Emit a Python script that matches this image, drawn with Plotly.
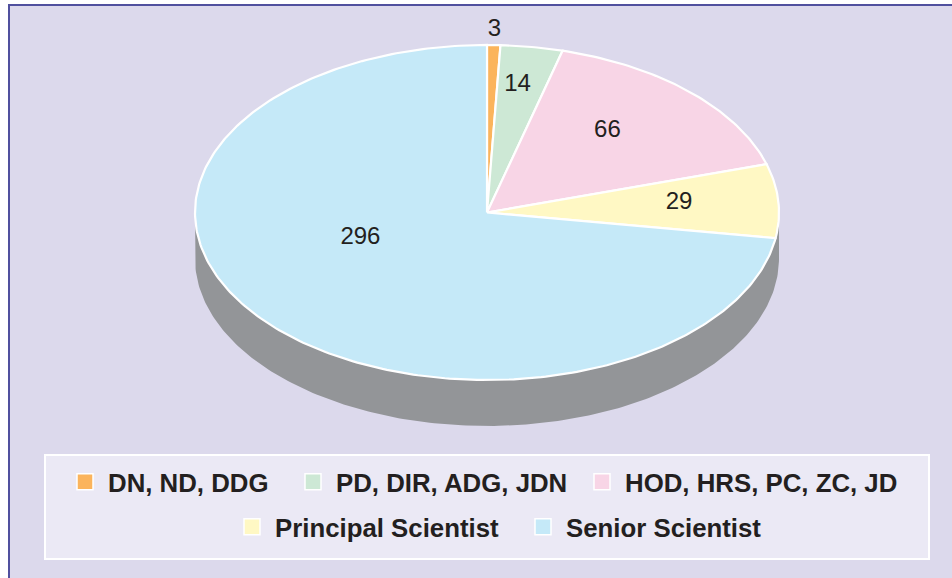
import numpy as np
import plotly.graph_objects as go

# ---------------- data ----------------
categories = ["DN, ND, DDG", "PD, DIR, ADG, JDN", "HOD, HRS, PC, ZC, JD",
              "Principal Scientist", "Senior Scientist"]
values = [3, 14, 66, 29, 296]

# ---------------- style ----------------
colors = ["#fbb45c", "#cde8d5", "#f8d5e6", "#fff8c4", "#c5e9f8"]
label_r = [1.09, 0.77, 0.64, 0.66, 0.46]          # radial fraction of label
label_shift = [0, -1, -4, -1, 21]                 # degrees shift from mid angle
# legend swatch placement (pixels): left edge of swatch, vertical centre of row
legend_left = [74, 302, 591, 241, 532]
legend_row = [482, 482, 482, 527, 527]
W, H = 952, 578
CX, CY, RX, RY, DEPTH = 487, 212.5, 292, 167.5, 46
TXT = "#231f20"
SWATCH_OFFSET = 12


def ell(t, r=1.0, dy=0.0):
    return CX + RX * r * np.sin(t), CY - RY * r * np.cos(t) + dy


total = float(sum(values))
bounds = np.concatenate([[0], np.cumsum(values)]) / total * 2 * np.pi

fig = go.Figure()

# side (depth) of the 3-D pie
t_side = np.linspace(np.pi / 2, 3 * np.pi / 2, 200)
xs_t, ys_t = ell(t_side)
xs_b, ys_b = ell(t_side[::-1], dy=DEPTH)
fig.add_trace(go.Scatter(x=np.concatenate([xs_t, xs_b]), y=np.concatenate([ys_t, ys_b]),
                         fill="toself", fillcolor="#939598", mode="lines",
                         line=dict(color="#939598", width=0), showlegend=False,
                         hoverinfo="skip"))

# top slices
for i, (cat, v) in enumerate(zip(categories, values)):
    t = np.linspace(bounds[i], bounds[i + 1], max(3, int(v / total * 400)))
    ax, ay = ell(t)
    xs = np.concatenate([[CX], ax, [CX]])
    ys = np.concatenate([[CY], ay, [CY]])
    fig.add_trace(go.Scatter(x=xs, y=ys, fill="toself", fillcolor=colors[i],
                             mode="lines", line=dict(color="white", width=2.2),
                             showlegend=False, name=cat, hoverinfo="skip"))

# value labels
lx, ly, lt = [], [], []
for i, v in enumerate(values):
    mid = (bounds[i] + bounds[i + 1]) / 2 + np.radians(label_shift[i])
    x, y = ell(mid, r=label_r[i])
    lx.append(x); ly.append(y); lt.append(str(v))
fig.add_trace(go.Scatter(x=lx, y=ly, text=lt, mode="text", textposition="middle center",
                         textfont=dict(family="Liberation Sans", size=24, color=TXT),
                         showlegend=False, hoverinfo="skip"))

# legend entries (one legend per entry for exact placement)
legend_font = dict(family="Liberation Sans", size=25.8, color=TXT, weight="bold")
legends = {}
for i, cat in enumerate(categories):
    key = "legend" if i == 0 else f"legend{i + 1}"
    fig.add_trace(go.Scatter(x=[None], y=[None], mode="markers", name=cat,
                             marker=dict(symbol="square", size=18, color=colors[i],
                                         line=dict(color="white", width=1.5)),
                             legend=key))
    legends[key] = dict(orientation="h", x=(legend_left[i] - SWATCH_OFFSET) / W,
                        xanchor="left", y=1 - legend_row[i] / H, yanchor="middle",
                        font=legend_font, bgcolor="rgba(0,0,0,0)", itemwidth=36)

fig.update_layout(
    width=W, height=H,
    margin=dict(l=0, r=0, t=0, b=0),
    paper_bgcolor="white", plot_bgcolor="white",
    xaxis=dict(range=[0, W], visible=False, fixedrange=True),
    yaxis=dict(range=[H, 0], visible=False, fixedrange=True),
    shapes=[
        dict(type="rect", xref="x", yref="y", x0=9, y0=5, x1=W + 20, y1=H + 20,
             fillcolor="#dcd9ec", line=dict(color="#50509e", width=2), layer="below"),
        dict(type="rect", xref="x", yref="y", x0=45, y0=455, x1=929, y1=559,
             fillcolor="#ebe9f5", line=dict(color="white", width=2), layer="below"),
    ],
    hovermode=False,
    **legends,
)

fig.write_html("out.html", config={"displayModeBar": False},
               post_script="document.body.style.margin='0px';")
